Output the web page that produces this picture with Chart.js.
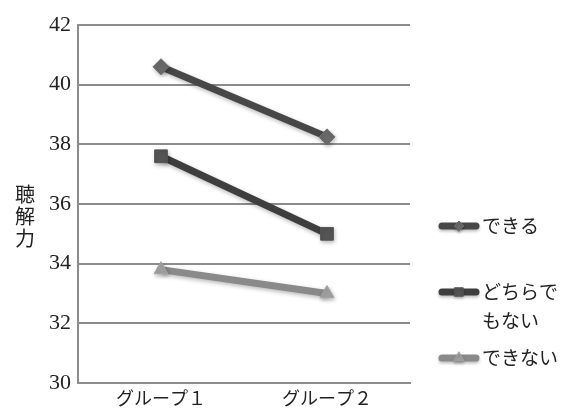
<!DOCTYPE html>
<html>
<head>
<meta charset="utf-8">
<script src="https://cdn.jsdelivr.net/npm/chart.js@4.4.1/dist/chart.umd.min.js"></script>
<style>
  html, body { margin: 0; padding: 0; background: #fff; }
  #wrap { width: 565px; height: 411px; position: relative; }
</style>
</head>
<body>
<div id="wrap"><canvas id="c" width="565" height="411"></canvas></div>
<script>
// Listening score by group and self-rated ability
const categories = ['グループ１', 'グループ２'];
const seriesNames = ['できる', ['どちらで', 'もない'], 'できない'];
const canDo      = [40.6, 38.25];
const neutral    = [37.6, 35.0];
const cannotDo   = [33.8, 33.0];
const yTicks     = [30, 32, 34, 36, 38, 40, 42];
const yTitle     = ['聴', '解', '力'];

const JP = '"Noto Sans CJK JP", sans-serif';
const NUM = '"Liberation Serif", "DejaVu Serif", serif';

const styles = [
  { line: '#474747', point: '#6a6a6a', pointStyle: 'rectRot', radius: 8, legendR: 5 },
  { line: '#3e3e3e', point: '#555555', pointStyle: 'rect', radius: 9, legendR: 6 },
  { line: '#8a8a8a', point: '#a3a3a3', pointStyle: 'triangle', radius: 8, legendR: 6 }
];
const values = [canDo, neutral, cannotDo];

const datasets = values.map((v, i) => ({
  label: Array.isArray(seriesNames[i]) ? seriesNames[i].join('') : seriesNames[i],
  data: v,
  borderColor: styles[i].line,
  borderWidth: 7,
  pointStyle: styles[i].pointStyle,
  pointRadius: styles[i].radius,
  pointHoverRadius: styles[i].radius,
  pointBackgroundColor: styles[i].point,
  pointBorderColor: styles[i].point,
  pointBorderWidth: 1,
  tension: 0
}));

// soft drop shadow under lines and markers
const shadowPlugin = {
  id: 'shadow',
  beforeDatasetsDraw(chart) {
    const ctx = chart.ctx;
    ctx.save();
    ctx.shadowColor = 'rgba(0,0,0,0.28)';
    ctx.shadowBlur = 4;
    ctx.shadowOffsetX = 1;
    ctx.shadowOffsetY = 2;
  },
  afterDatasetsDraw(chart) { chart.ctx.restore(); }
};

// stacked vertical axis title and the side legend
const decorPlugin = {
  id: 'decor',
  afterDraw(chart) {
    const ctx = chart.ctx;
    ctx.save();
    ctx.fillStyle = '#222';
    ctx.font = '20px ' + JP;
    ctx.textAlign = 'center';
    ctx.textBaseline = 'middle';
    yTitle.forEach((ch, i) => ctx.fillText(ch, 25, 194 + i * 22));

    const rows = [226, 292, 358];
    rows.forEach((y, i) => {
      const s = styles[i];
      ctx.save();
      ctx.shadowColor = 'rgba(0,0,0,0.25)';
      ctx.shadowBlur = 3;
      ctx.shadowOffsetY = 2;
      ctx.strokeStyle = s.line;
      ctx.lineWidth = 7;
      ctx.lineCap = 'round';
      ctx.beginPath();
      ctx.moveTo(442, y);
      ctx.lineTo(476, y);
      ctx.stroke();
      ctx.fillStyle = s.point;
      ctx.strokeStyle = s.point;
      ctx.lineWidth = 1;
      Chart.helpers.drawPoint(ctx, {
        pointStyle: s.pointStyle, radius: s.legendR, rotation: 0, borderWidth: 1
      }, 459, y);
      ctx.restore();

      ctx.fillStyle = '#222';
      ctx.font = '19px ' + JP;
      ctx.textAlign = 'left';
      const name = seriesNames[i];
      const lines = Array.isArray(name) ? name : [name];
      lines.forEach((t, k) => ctx.fillText(t, 482, y + k * 29));
    });
    ctx.restore();
  }
};

new Chart(document.getElementById('c'), {
  type: 'line',
  data: { labels: categories, datasets },
  options: {
    responsive: false,
    animation: false,
    devicePixelRatio: 1,
    layout: { padding: { top: 25, right: 155, left: 0, bottom: 0 } },
    plugins: { legend: { display: false }, tooltip: { enabled: false } },
    scales: {
      x: {
        offset: true,
        grid: { display: false, drawTicks: false },
        border: { display: true, color: '#8c8c8c', width: 2 },
        ticks: { color: '#222', font: { family: JP, size: 18 }, padding: 4 },
        afterFit(scale) { scale.height = 28; }
      },
      y: {
        min: 30, max: 42,
        afterBuildTicks(scale) { scale.ticks = yTicks.map(v => ({ value: v })); },
        grid: { color: '#8c8c8c', lineWidth: 2, drawTicks: false },
        border: { display: true, color: '#8c8c8c', width: 2 },
        ticks: { color: '#222', font: { family: NUM, size: 22 }, padding: 7 },
        afterFit(scale) { scale.width = 78; }
      }
    }
  },
  plugins: [shadowPlugin, decorPlugin]
});
</script>
</body>
</html>
